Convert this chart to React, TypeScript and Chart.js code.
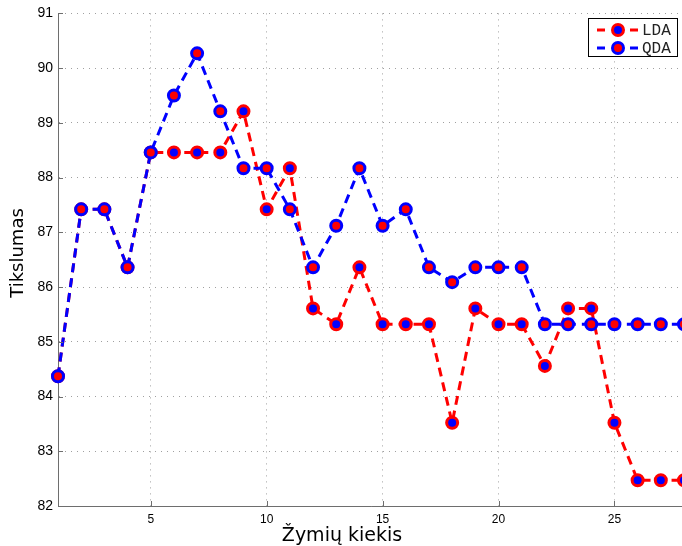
import React, { useEffect, useRef } from "react";
import { Chart, registerables } from "chart.js";

Chart.register(...registerables);

const xValues = [1, 2, 3, 4, 5, 6, 7, 8, 9, 10, 11, 12, 13, 14, 15, 16, 17, 18, 19, 20, 21, 22, 23, 24, 25, 26, 27, 28];
const ldaValues = [84.37, 87.42, 87.42, 86.36, 88.46, 88.46, 88.46, 88.46, 89.21, 87.42, 88.17, 85.61, 85.32, 86.36, 85.32, 85.32, 85.32, 83.52, 85.61, 85.32, 85.32, 84.56, 85.61, 85.61, 83.52, 82.47, 82.47, 82.47];
const qdaValues = [84.37, 87.42, 87.42, 86.36, 88.46, 89.5, 90.27, 89.21, 88.17, 88.17, 87.42, 86.36, 87.12, 88.17, 87.12, 87.42, 86.36, 86.09, 86.36, 86.36, 86.36, 85.32, 85.32, 85.32, 85.32, 85.32, 85.32, 85.32];
const xTicks = [5, 10, 15, 20, 25];
const yTicks = [82, 83, 84, 85, 86, 87, 88, 89, 90, 91];
const seriesNames = ["LDA", "QDA"];
const xTitle = "Žymių kiekis";
const yTitle = "Tikslumas";

const RED = "#ff0000";
const BLUE = "#0000ff";
const AXIS = "#6e6e6e";
const GRID = "#a0a0a0";

const decorPlugin = {
  id: "decor",
  afterDatasetsDraw(chart: any) {
    const ctx = chart.ctx;
    const area = chart.chartArea;
    const xs = chart.scales.x;
    const ys = chart.scales.y;
    ctx.save();
    ctx.strokeStyle = AXIS;
    ctx.lineWidth = 1;
    ctx.setLineDash([]);
    yTicks.forEach((v) => {
      const y = Math.round(ys.getPixelForValue(v)) + 0.5;
      ctx.beginPath();
      ctx.moveTo(area.left, y);
      ctx.lineTo(area.left + 5, y);
      ctx.stroke();
    });
    xTicks.forEach((v) => {
      const x = Math.round(xs.getPixelForValue(v)) + 0.5;
      ctx.beginPath();
      ctx.moveTo(x, area.bottom);
      ctx.lineTo(x, area.bottom - 5);
      ctx.stroke();
    });
    ctx.restore();
  },
  afterDraw(chart: any) {
    const ctx = chart.ctx;
    ctx.save();
    ctx.fillStyle = "#000";
    ctx.font = "19px 'DejaVu Sans'";
    ctx.textAlign = "center";
    ctx.textBaseline = "alphabetic";
    ctx.fillText(xTitle, 342, 541);
    ctx.save();
    ctx.translate(23, 253);
    ctx.rotate(-Math.PI / 2);
    ctx.font = "18px 'DejaVu Sans'";
    ctx.fillText(yTitle, 0, 0);
    ctx.restore();

    const bx = 588.5, by = 18.5, bw = 89, bh = 38;
    ctx.fillStyle = "#fff";
    ctx.fillRect(bx, by, bw, bh);
    ctx.strokeStyle = "#000";
    ctx.lineWidth = 1;
    ctx.strokeRect(bx, by, bw, bh);
    const rows = [
      { name: seriesNames[0], y: 30, line: RED, fill: BLUE },
      { name: seriesNames[1], y: 48, line: BLUE, fill: RED },
    ];
    rows.forEach((r) => {
      ctx.strokeStyle = r.line;
      ctx.lineWidth = 3;
      ctx.beginPath();
      ctx.moveTo(597, r.y);
      ctx.lineTo(605, r.y);
      ctx.moveTo(630, r.y);
      ctx.lineTo(638, r.y);
      ctx.stroke();
      ctx.beginPath();
      ctx.arc(618, r.y, 5.5, 0, Math.PI * 2);
      ctx.fillStyle = r.fill;
      ctx.fill();
      ctx.lineWidth = 3;
      ctx.strokeStyle = r.line;
      ctx.stroke();
      ctx.fillStyle = "#222";
      ctx.font = "16px 'Liberation Mono'";
      ctx.textAlign = "left";
      ctx.textBaseline = "middle";
      ctx.fillText(r.name, 642, r.y + 1);
    });
    ctx.restore();
  },
};

export default function App() {
  const canvasRef = useRef<HTMLCanvasElement | null>(null);

  useEffect(() => {
    const canvas = canvasRef.current;
    if (!canvas) return;
    const mk = (vals: number[]) => xValues.map((x, i) => ({ x, y: vals[i] }));
    const chart = new Chart(canvas, {
      type: "line",
      data: {
        datasets: [
          {
            label: seriesNames[0],
            data: mk(ldaValues),
            borderColor: RED,
            borderWidth: 3,
            borderDash: [9, 6],
            pointRadius: 5.5,
            pointBorderWidth: 3,
            pointBackgroundColor: BLUE,
            pointBorderColor: RED,
            fill: false,
            tension: 0,
            order: 1,
            clip: false as any,
          },
          {
            label: seriesNames[1],
            data: mk(qdaValues),
            borderColor: BLUE,
            borderWidth: 3,
            borderDash: [9, 6],
            pointRadius: 5.5,
            pointBorderWidth: 3,
            pointBackgroundColor: RED,
            pointBorderColor: BLUE,
            fill: false,
            tension: 0,
            order: 0,
            clip: false as any,
          },
        ],
      },
      options: {
        responsive: false,
        animation: false,
        devicePixelRatio: 1,
        layout: { padding: { top: 13, right: 16, left: 0, bottom: 0 } },
        plugins: {
          legend: { display: false },
          tooltip: { enabled: false },
          title: { display: false },
        },
        scales: {
          x: {
            type: "linear",
            min: 1,
            max: 28,
            afterBuildTicks: (s: any) => {
              s.ticks = xTicks.map((v) => ({ value: v }));
            },
            afterFit: (s: any) => {
              s.height = 40;
            },
            grid: { color: GRID, lineWidth: 1, drawTicks: false },
            border: { display: true, color: AXIS, width: 1, dash: [1, 5] } as any,
            ticks: {
              color: "#000",
              padding: 6,
              font: { family: "'Liberation Sans'", size: 12 },
              maxRotation: 0,
            },
          },
          y: {
            type: "linear",
            min: 82,
            max: 91,
            afterBuildTicks: (s: any) => {
              s.ticks = yTicks.map((v) => ({ value: v }));
            },
            afterFit: (s: any) => {
              s.width = 58;
            },
            grid: { color: GRID, lineWidth: 1, drawTicks: false },
            border: { display: true, color: AXIS, width: 1, dash: [1, 5] } as any,
            ticks: {
              color: "#000",
              padding: 5,
              font: { family: "'Liberation Sans'", size: 14 },
            },
          },
        },
      },
      plugins: [decorPlugin],
    });
    return () => chart.destroy();
  }, []);

  return (
    <div
      style={{
        position: "fixed",
        left: 0,
        top: 0,
        width: 682,
        height: 546,
        overflow: "hidden",
        background: "#fff",
      }}
    >
      <canvas ref={canvasRef} width={700} height={546} style={{ display: "block" }} />
    </div>
  );
}
